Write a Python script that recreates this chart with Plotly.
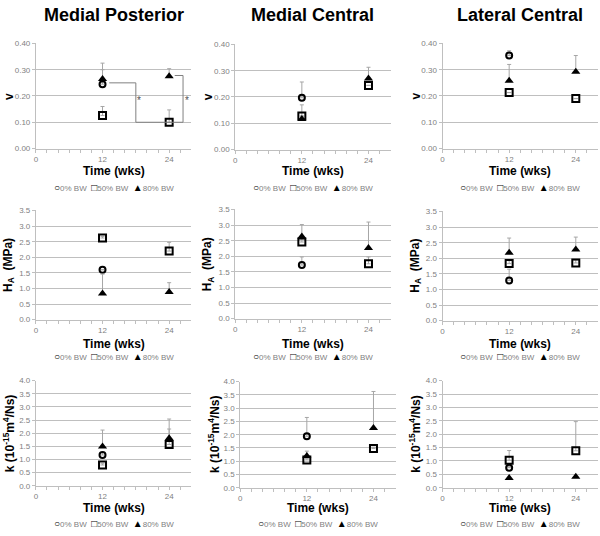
import plotly.graph_objects as go

# ---------------- data ----------------
weeks = [12, 24]
weeks_0 = [12]
series_names = ["0% BW", "50% BW", "80% BW"]
col_titles = ["Medial Posterior", "Medial Central", "Lateral Central"]
row_titles = ["<b>v</b>", "<b>H<sub>A</sub>  (MPa)</b>", "<b>k (10<sup>-15</sup>m<sup>4</sup>/Ns)</b>"]
x_tick_labels = {0: "0", 12: "12", 24: "24"}

# Poisson's ratio v
v_mp_0, v_mp_0_err = [0.245], [0.08]
v_mp_50, v_mp_50_err = [0.126, 0.100], [0.034, 0.047]
v_mp_80, v_mp_80_err = [0.265, 0.275], [0.035, 0.029]
v_mc_0, v_mc_0_err = [0.197], [0.060]
v_mc_50, v_mc_50_err = [0.128, 0.244], [0.042, 0.0]
v_mc_80, v_mc_80_err = [0.116, 0.270], [0.010, 0.043]
v_lc_0, v_lc_0_err = [0.354], [0.018]
v_lc_50, v_lc_50_err = [0.213, 0.190], [0.0, 0.0]
v_lc_80, v_lc_80_err = [0.258, 0.292], [0.062, 0.062]

# Aggregate modulus HA (MPa)
ha_mp_0, ha_mp_0_err = [1.60], [0.0]
ha_mp_50, ha_mp_50_err = [2.62, 2.20], [0.05, 0.28]
ha_mp_80, ha_mp_80_err = [0.84, 0.885], [0.62, 0.30]
ha_mc_0, ha_mc_0_err = [1.72], [0.26]
ha_mc_50, ha_mc_50_err = [2.46, 1.76], [0.10, 0.22]
ha_mc_80, ha_mc_80_err = [2.64, 2.27], [0.38, 0.83]
ha_lc_0, ha_lc_0_err = [1.29], [0.36]
ha_lc_50, ha_lc_50_err = [1.83, 1.85], [0.10, 0.10]
ha_lc_80, ha_lc_80_err = [2.18, 2.28], [0.47, 0.40]

# Permeability k (10^-15 m^4/Ns)
k_mp_0, k_mp_0_err = [1.17], [0.10]
k_mp_50, k_mp_50_err = [0.79, 1.57], [0.05, 0.59]
k_mp_80, k_mp_80_err = [1.49, 1.81], [0.63, 0.73]
k_mc_0, k_mc_0_err = [1.94], [0.71]
k_mc_50, k_mc_50_err = [1.05, 1.48], [0.05, 0.05]
k_mc_80, k_mc_80_err = [1.20, 2.25], [0.18, 1.38]
k_lc_0, k_lc_0_err = [0.75], [0.05]
k_lc_50, k_lc_50_err = [1.03, 1.38], [0.36, 1.09]
k_lc_80, k_lc_80_err = [0.36, 0.41], [0.0, 0.0]

# significance bracket (medial posterior, v panel)
sig_x = [13.2, 18.0, 18.0, 26.5, 26.5, 25.0]
sig_y = [0.250, 0.250, 0.100, 0.100, 0.278, 0.278]
star_x = [18.55, 27.2]
star_y = [0.184, 0.184]

y_ranges = [[0, 0.4], [0, 3.5], [0, 4.0]]
y_dticks = [0.1, 0.5, 0.5]
y_formats = [".2f", ".1f", ".1f"]

panels = [
    [(v_mp_0, v_mp_0_err, v_mp_50, v_mp_50_err, v_mp_80, v_mp_80_err),
     (v_mc_0, v_mc_0_err, v_mc_50, v_mc_50_err, v_mc_80, v_mc_80_err),
     (v_lc_0, v_lc_0_err, v_lc_50, v_lc_50_err, v_lc_80, v_lc_80_err)],
    [(ha_mp_0, ha_mp_0_err, ha_mp_50, ha_mp_50_err, ha_mp_80, ha_mp_80_err),
     (ha_mc_0, ha_mc_0_err, ha_mc_50, ha_mc_50_err, ha_mc_80, ha_mc_80_err),
     (ha_lc_0, ha_lc_0_err, ha_lc_50, ha_lc_50_err, ha_lc_80, ha_lc_80_err)],
    [(k_mp_0, k_mp_0_err, k_mp_50, k_mp_50_err, k_mp_80, k_mp_80_err),
     (k_mc_0, k_mc_0_err, k_mc_50, k_mc_50_err, k_mc_80, k_mc_80_err),
     (k_lc_0, k_lc_0_err, k_lc_50, k_lc_50_err, k_lc_80, k_lc_80_err)],
]

# ---------------- layout geometry (pixels) ----------------
W, H = 600, 536
px_x = [[(34, 190), (234, 390), (442, 598)],
        [(34, 190), (234, 390), (442, 598)],
        [(34, 190), (239, 395), (442, 598)]]
px_y = [[(40, 147), (41, 148), (40, 147)],
        [(210, 321), (209, 320), (211, 322)],
        [(383, 490), (384, 492), (383, 492)]]
legend_y = [187, 359, 528]
xtitle_y = [170, 346, 513]

FONT = "Liberation Sans"
GRID = "#bfbfbf"
TICKC = "#7f7f7f"
ERRC = "#a6a6a6"

fig = go.Figure()
layout = dict(width=W, height=H, margin=dict(l=0, r=0, t=0, b=0),
              paper_bgcolor="white", plot_bgcolor="white", showlegend=False,
              font=dict(family=FONT, size=8, color=TICKC))
annotations = []

marker_styles = [
    dict(symbol="circle-open", size=6, color="black", line=dict(width=2, color="black")),
    dict(symbol="square-open", size=7, color="black", line=dict(width=2, color="black")),
    dict(symbol="triangle-up", size=8, color="black", line=dict(width=0)),
]

for r in range(3):
    for c in range(3):
        i = r * 3 + c
        xa = "x" if i == 0 else f"x{i+1}"
        ya = "y" if i == 0 else f"y{i+1}"
        xk = "xaxis" if i == 0 else f"xaxis{i+1}"
        yk = "yaxis" if i == 0 else f"yaxis{i+1}"
        (x0, x1), (y0, y1) = px_x[r][c], px_y[r][c]
        d0, e0, d50, e50, d80, e80 = panels[r][c]
        for s, (xs, ys, es) in enumerate([(weeks_0, d0, e0), (weeks, d50, e50), (weeks, d80, e80)]):
            fig.add_trace(go.Scatter(
                x=xs, y=ys, mode="markers", name=series_names[s],
                xaxis=xa, yaxis=ya, marker=marker_styles[s], cliponaxis=False,
                error_y=dict(type="data", symmetric=False, array=es,
                             arrayminus=[0] * len(es), color=ERRC, thickness=1, width=2)))
        layout[xk] = dict(domain=[x0 / W, x1 / W], anchor=ya, range=[0, 28],
                          tickvals=list(range(0, 28, 2)),
                          ticktext=[x_tick_labels.get(t, "") for t in range(0, 28, 2)],
                          showgrid=False, zeroline=False, showline=True, linecolor=GRID,
                          linewidth=1, ticks="outside", ticklen=3, tickcolor=GRID,
                          tickfont=dict(size=8, color=TICKC, family=FONT), fixedrange=True)
        layout[yk] = dict(domain=[1 - y1 / H, 1 - y0 / H], anchor=xa,
                          range=[y_ranges[r][0], y_ranges[r][1] * 1.001],
                          dtick=y_dticks[r], tick0=0, tickformat=y_formats[r],
                          showgrid=True, gridcolor=GRID, gridwidth=1, zeroline=False,
                          showline=True, linecolor=GRID, ticks="outside", ticklen=3,
                          tickcolor=GRID, tickfont=dict(size=8, color=TICKC, family=FONT),
                          fixedrange=True)
        # x axis title
        annotations.append(dict(text="<b>Time (wks)</b>", xref="paper", yref="paper",
                                x=(x0 + x1) / 2 / W, y=1 - xtitle_y[r] / H, showarrow=False,
                                font=dict(family=FONT, size=12, color="black"),
                                xanchor="center", yanchor="middle"))
        # y axis title
        annotations.append(dict(text=row_titles[r], xref="paper", yref="paper",
                                x=(x0 - 27) / W, y=1 - (y0 + y1) / 2 / H, showarrow=False,
                                textangle=-90, font=dict(family=FONT, size=12, color="black"),
                                xanchor="center", yanchor="middle"))
        # legend
        leg = ("<span style='color:black;font-size:10px'><b>○</b></span>0% BW  "
               "<span style='color:black;font-size:10px'><b>□</b></span>50% BW  "
               "<span style='color:black;font-size:10px'>▲</span>80% BW")
        annotations.append(dict(text=leg, xref="paper", yref="paper",
                                x=(x0 + x1) / 2 / W, y=1 - legend_y[r] / H, showarrow=False,
                                font=dict(family=FONT, size=8, color=TICKC),
                                xanchor="center", yanchor="middle"))

# column titles
for c in range(3):
    x0, x1 = px_x[0][c]
    annotations.append(dict(text=f"<b>{col_titles[c]}</b>", xref="paper", yref="paper",
                            x=(x0 + x1) / 2 / W, y=1 - 11 / H, showarrow=False,
                            font=dict(family=FONT, size=18, color="black"),
                            xanchor="center", yanchor="middle"))

# significance bracket
fig.add_trace(go.Scatter(x=sig_x, y=sig_y, mode="lines", xaxis="x", yaxis="y",
                         line=dict(color="#808080", width=1), hoverinfo="skip", showlegend=False))
for sx, sy in zip(star_x, star_y):
    annotations.append(dict(text="*", x=sx, y=sy, xref="x", yref="y", showarrow=False,
                            font=dict(family=FONT, size=10, color="#505050")))

layout["annotations"] = annotations
fig.update_layout(**layout)
fig.write_html("out.html", config={"displayModeBar": False},
               post_script="document.body.style.margin='0';")
